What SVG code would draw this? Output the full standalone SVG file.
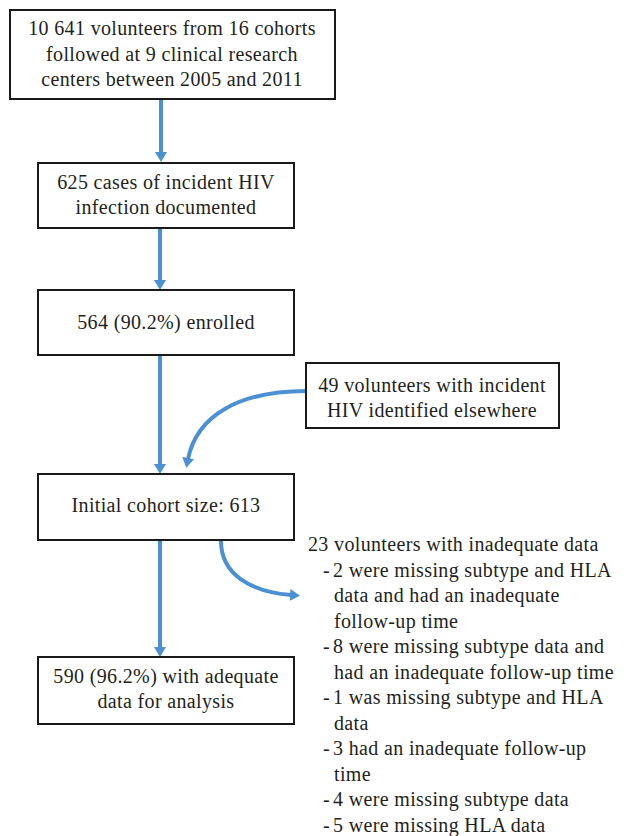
<svg xmlns="http://www.w3.org/2000/svg" width="624" height="836" viewBox="0 0 624 836">
<defs>
<marker id="ah" viewBox="0 0 10 12" refX="1" refY="6" markerWidth="10" markerHeight="12" markerUnits="userSpaceOnUse" orient="auto">
<path d="M0,0 L10,6 L0,12 z" fill="#4a90d2"/>
</marker>
</defs>
<rect width="624" height="836" fill="#fff"/>
<g id="connectors" fill="none" stroke="#4a90d2" stroke-width="4" marker-end="url(#ah)">
<path d="M161,99 L161,153"/>
<path d="M160,228 L160,281"/>
<path d="M160,355 L160,465"/>
<path d="M306,391 C240,391 197,415 188,459"/>
<path d="M160,540 L160,648"/>
<path d="M221,541 C221,575 252,592 291,595"/>
</g>
<g id="n1">
<rect x="10" y="10" width="325" height="89" fill="#fff" stroke="#1a1a1a" stroke-width="2"/>
<text font-family="Liberation Serif" font-size="20" letter-spacing="0.35" fill="#231f20" text-anchor="middle" x="172" y="35">10 641 volunteers from 16 cohorts</text>
<text font-family="Liberation Serif" font-size="20" letter-spacing="0.35" fill="#231f20" text-anchor="middle" x="172" y="61">followed at 9 clinical research</text>
<text font-family="Liberation Serif" font-size="20" letter-spacing="0.35" fill="#231f20" text-anchor="middle" x="172" y="86">centers between 2005 and 2011</text>
</g>
<g id="n2">
<rect x="38" y="163" width="256" height="65" fill="#fff" stroke="#1a1a1a" stroke-width="2"/>
<text font-family="Liberation Serif" font-size="20" letter-spacing="0.35" fill="#231f20" text-anchor="middle" x="166" y="189">625 cases of incident HIV</text>
<text font-family="Liberation Serif" font-size="20" letter-spacing="0.35" fill="#231f20" text-anchor="middle" x="166" y="214">infection documented</text>
</g>
<g id="n3">
<rect x="38" y="290" width="256" height="65" fill="#fff" stroke="#1a1a1a" stroke-width="2"/>
<text font-family="Liberation Serif" font-size="20" letter-spacing="0.35" fill="#231f20" text-anchor="middle" x="166" y="329">564 (90.2%) enrolled</text>
</g>
<g id="n4">
<rect x="306" y="363" width="253" height="65" fill="#fff" stroke="#1a1a1a" stroke-width="2"/>
<text font-family="Liberation Serif" font-size="20" letter-spacing="0.35" fill="#231f20" text-anchor="middle" x="432" y="392">49 volunteers with incident</text>
<text font-family="Liberation Serif" font-size="20" letter-spacing="0.35" fill="#231f20" text-anchor="middle" x="432" y="417">HIV identified elsewhere</text>
</g>
<g id="n5">
<rect x="38" y="474" width="256" height="66" fill="#fff" stroke="#1a1a1a" stroke-width="2"/>
<text font-family="Liberation Serif" font-size="20" letter-spacing="0.35" fill="#231f20" text-anchor="middle" x="166" y="512">Initial cohort size: 613</text>
</g>
<g id="n6">
<rect x="38" y="657" width="256" height="67" fill="#fff" stroke="#1a1a1a" stroke-width="2"/>
<text font-family="Liberation Serif" font-size="20" letter-spacing="0.35" fill="#231f20" text-anchor="middle" x="166" y="683">590 (96.2%) with adequate</text>
<text font-family="Liberation Serif" font-size="20" letter-spacing="0.35" fill="#231f20" text-anchor="middle" x="166" y="708">data for analysis</text>
</g>
<g id="n7">
<text font-family="Liberation Serif" font-size="20" letter-spacing="0.35" fill="#231f20" x="308" y="551">23 volunteers with inadequate data</text>
<text font-family="Liberation Serif" font-size="20" letter-spacing="0.35" fill="#231f20" x="323" y="576.5">-<tspan x="333">2 were missing subtype and HLA</tspan></text>
<text font-family="Liberation Serif" font-size="20" letter-spacing="0.35" fill="#231f20" x="334" y="602">data and had an inadequate</text>
<text font-family="Liberation Serif" font-size="20" letter-spacing="0.35" fill="#231f20" x="334" y="627.5">follow-up time</text>
<text font-family="Liberation Serif" font-size="20" letter-spacing="0.35" fill="#231f20" x="323" y="653">-<tspan x="333">8 were missing subtype data and</tspan></text>
<text font-family="Liberation Serif" font-size="20" letter-spacing="0.35" fill="#231f20" x="334" y="678.5">had an inadequate follow-up time</text>
<text font-family="Liberation Serif" font-size="20" letter-spacing="0.35" fill="#231f20" x="323" y="704">-<tspan x="333">1 was missing subtype and HLA</tspan></text>
<text font-family="Liberation Serif" font-size="20" letter-spacing="0.35" fill="#231f20" x="334" y="729.5">data</text>
<text font-family="Liberation Serif" font-size="20" letter-spacing="0.35" fill="#231f20" x="323" y="755">-<tspan x="333">3 had an inadequate follow-up</tspan></text>
<text font-family="Liberation Serif" font-size="20" letter-spacing="0.35" fill="#231f20" x="334" y="780.5">time</text>
<text font-family="Liberation Serif" font-size="20" letter-spacing="0.35" fill="#231f20" x="323" y="806">-<tspan x="333">4 were missing subtype data</tspan></text>
<text font-family="Liberation Serif" font-size="20" letter-spacing="0.35" fill="#231f20" x="323" y="831.5">-<tspan x="333">5 were missing HLA data</tspan></text>
</g>
</svg>
